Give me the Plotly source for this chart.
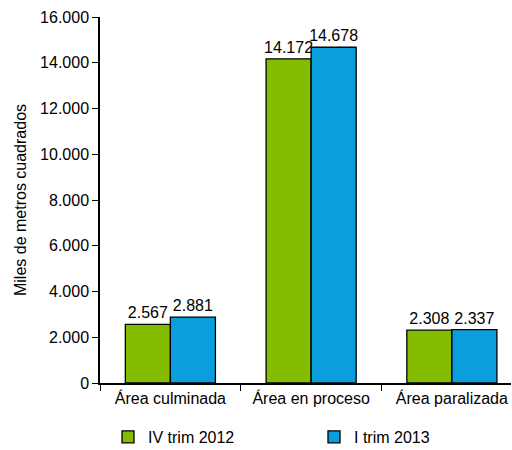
import plotly.graph_objects as go

categories = ["Área culminada", "Área en proceso", "Área paralizada"]
series_names = ["IV trim 2012", "I trim 2013"]
iv_2012 = [2567, 14172, 2308]
i_2013 = [2881, 14678, 2337]
y_ticks = [0, 2000, 4000, 6000, 8000, 10000, 12000, 14000, 16000]

font_family = "Liberation Sans, Arial, sans-serif"

fig = go.Figure()
fig.add_trace(go.Bar(
    x=categories, y=iv_2012, name=series_names[0], legend="legend",
    marker=dict(color="#84BC00", line=dict(color="black", width=1.3)),
    texttemplate="%{y:,d}", textposition="outside", textangle=0,
    constraintext="none",
    textfont=dict(size=16, color="black", family=font_family),
    cliponaxis=False,
))
fig.add_trace(go.Bar(
    x=categories, y=i_2013, name=series_names[1], legend="legend2",
    marker=dict(color="#0A9EDC", line=dict(color="black", width=1.3)),
    texttemplate="%{y:,d}", textposition="outside", textangle=0,
    constraintext="none",
    textfont=dict(size=16, color="black", family=font_family),
    cliponaxis=False,
))

legend_common = dict(orientation="h", xref="container", yref="container",
                     xanchor="left", y=0.029, yanchor="middle",
                     font=dict(size=16), bgcolor="rgba(0,0,0,0)")

fig.update_layout(
    width=512, height=450,
    margin=dict(l=100, r=1, t=17, b=67, autoexpand=False),
    paper_bgcolor="white", plot_bgcolor="white",
    separators=",.",
    barmode="group", bargap=0.36, bargroupgap=0,
    font=dict(family=font_family, size=16, color="black"),
    showlegend=True,
    legend=dict(x=108 / 512, **legend_common),
    legend2=dict(x=314 / 512, **legend_common),
    uniformtext=dict(minsize=16, mode="show"),
)
fig.update_yaxes(
    range=[0, 16000], tickvals=y_ticks, tickformat=",d",
    showgrid=False, zeroline=False, automargin=False,
    showline=True, linecolor="black", linewidth=1.5,
    ticks="outside", ticklen=6, tickcolor="black",
    title=dict(text="Miles de metros cuadrados", font=dict(size=16), standoff=10),
    tickfont=dict(size=16),
)
fig.update_xaxes(
    range=[-0.5, 2.42], automargin=False,
    showgrid=False, showline=True, linecolor="black", linewidth=1.5,
    ticks="outside", ticklen=6, tickcolor="black", tickson="boundaries",
    tickfont=dict(size=16), ticklabeloverflow="allow",
)

fig.write_html("out.html", config={"displayModeBar": False},
               post_script="document.body.style.margin='0';")
